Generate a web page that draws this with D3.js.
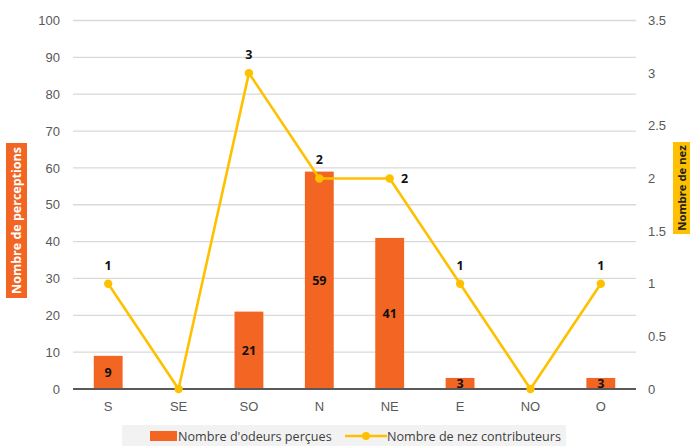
<!DOCTYPE html>
<html><head><meta charset="utf-8">
<script src="https://cdn.jsdelivr.net/npm/d3@7"></script>
<style>body{margin:0;background:#fff;}svg{display:block;font-family:"Open Sans","Noto Sans",sans-serif;}</style>
</head><body><svg id="c" width="690" height="446"></svg>
<script>
const categories = ["S","SE","SO","N","NE","E","NO","O"];
const odeurs = [9,0,21,59,41,3,0,3];
const nez = [1,0,3,2,2,1,0,1];
const leftTicks = [0,10,20,30,40,50,60,70,80,90,100];
const rightTicks = [0,0.5,1,1.5,2,2.5,3,3.5];
const labelLeft = "Nombre de perceptions";
const labelRight = "Nombre de nez";
const legendBar = "Nombre d'odeurs perçues";
const legendLine = "Nombre de nez contributeurs";

const svg = d3.select("#c");
const x0=73,x1=636,yTop=20.5,yBot=389;
const orange="#F26522", gold="#FFC000", grey="#595959";

const x = d3.scaleBand().domain(categories).range([x0,x1]).paddingInner(0.59).paddingOuter(0.295);
const yL = d3.scaleLinear().domain([0,100]).range([yBot,yTop]);
const yR = d3.scaleLinear().domain([0,3.5]).range([yBot,yTop]);

// gridlines
svg.append("g").selectAll("line").data(leftTicks.filter(d=>d>0)).join("line")
  .attr("x1",x0).attr("x2",x1).attr("y1",d=>yL(d)).attr("y2",d=>yL(d))
  .attr("stroke","#d9d9d9").attr("stroke-width",1.3);

// left axis
const gl = svg.append("g").attr("transform",`translate(${x0},0)`)
  .call(d3.axisLeft(yL).tickValues(leftTicks).tickSize(0).tickPadding(13));
gl.select(".domain").remove();
gl.selectAll("text").attr("fill",grey).style("font-size","13px");

// right axis
const gr = svg.append("g").attr("transform",`translate(${x1},0)`)
  .call(d3.axisRight(yR).tickValues(rightTicks).tickSize(0).tickPadding(12).tickFormat(d3.format("")));
gr.select(".domain").remove();
gr.selectAll("text").attr("fill",grey).style("font-size","13px");

const data = categories.map((c,i)=>({c, o:odeurs[i], n:nez[i]}));

// bars
svg.append("g").selectAll("rect").data(data).join("rect")
  .attr("x",d=>x(d.c)).attr("width",x.bandwidth())
  .attr("y",d=>yL(d.o)).attr("height",d=>yBot-yL(d.o)).attr("fill",orange);

// x axis baseline
svg.append("line").attr("x1",x0).attr("x2",x1).attr("y1",yBot).attr("y2",yBot)
  .attr("stroke",grey).attr("stroke-width",1.8);

// x labels
const gx = svg.append("g").attr("transform",`translate(0,${yBot})`)
  .call(d3.axisBottom(x).tickSize(0).tickPadding(13));
gx.select(".domain").remove();
gx.selectAll("text").attr("fill",grey).style("font-size","13px");

// bar labels
svg.append("g").selectAll("text").data(data.filter(d=>d.o>0)).join("text")
  .attr("x",d=>x(d.c)+x.bandwidth()/2)
  .attr("y",d=>(yL(d.o)+yBot)/2+4.5)
  .attr("text-anchor","middle").attr("font-weight","bold").style("font-size","12.5px").attr("fill","#111")
  .text(d=>d.o);

// line
const cx = d=>x(d.c)+x.bandwidth()/2;
svg.append("path").datum(data)
  .attr("d",d3.line().x(cx).y(d=>yR(d.n)))
  .attr("fill","none").attr("stroke",gold).attr("stroke-width",2.6).attr("stroke-linejoin","round");
svg.append("g").selectAll("circle").data(data).join("circle")
  .attr("cx",cx).attr("cy",d=>yR(d.n)).attr("r",4.2).attr("fill",gold);

// line labels
svg.append("g").selectAll("text").data(data.filter(d=>d.n>0)).join("text")
  .attr("x",d=> d.c==="NE" ? cx(d)+15 : cx(d))
  .attr("y",d=> d.c==="NE" ? yR(d.n)+5 : yR(d.n)-14)
  .attr("text-anchor","middle").attr("font-weight","bold").style("font-size","12.5px").attr("fill","#111")
  .text(d=>d.n);

// left axis title
svg.append("rect").attr("x",6).attr("y",143).attr("width",21).attr("height",155).attr("fill",orange);
svg.append("text").attr("transform","translate(21,220.5) rotate(-90)").attr("text-anchor","middle")
  .attr("fill","#fff").attr("font-weight","bold").style("font-size","12.5px").text(labelLeft);

// right axis title
svg.append("rect").attr("x",673).attr("y",142).attr("width",17).attr("height",92).attr("fill",gold);
svg.append("text").attr("transform","translate(686,188) rotate(-90)").attr("text-anchor","middle")
  .attr("fill","#222").attr("font-weight","bold").style("font-size","11.3px").text(labelRight);

// legend
svg.append("rect").attr("x",122).attr("y",425).attr("width",444).attr("height",21).attr("fill","#f2f2f2");
svg.append("rect").attr("x",150).attr("y",431).attr("width",27).attr("height",10).attr("fill",orange);
svg.append("text").attr("x",178).attr("y",441).attr("fill","#404040").style("font-size","12.6px").text(legendBar);
svg.append("line").attr("x1",345).attr("x2",387).attr("y1",436).attr("y2",436).attr("stroke",gold).attr("stroke-width",2.6);
svg.append("circle").attr("cx",366).attr("cy",436).attr("r",4).attr("fill",gold);
svg.append("text").attr("x",387).attr("y",441).attr("fill","#404040").style("font-size","12.6px").text(legendLine);
</script></body></html>
